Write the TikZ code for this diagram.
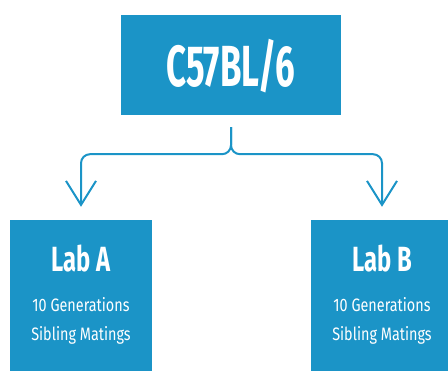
\documentclass[tikz,border=0pt]{standalone}
\usepackage{fontspec}
\setmainfont{Fira Sans}[FakeStretch=0.6]
\newfontfamily\labfont{Fira Sans}[FakeStretch=0.68]
\newfontfamily\subfont{Fira Sans}[FakeStretch=0.8]
\usetikzlibrary{arrows.meta}
\definecolor{labblue}{RGB}{27,148,199}
\tikzset{
  box/.style={fill=labblue, draw=none, inner sep=0pt},
  bigtext/.style={text=white, font=\fontsize{58}{60}\selectfont\bfseries, inner sep=0pt, anchor=base},
  labtext/.style={text=white, font=\labfont\fontsize{35}{38}\selectfont\bfseries, inner sep=0pt, anchor=base},
  subtext/.style={text=white, font=\subfont\fontsize{18}{20}\selectfont, inner sep=0pt, anchor=base},
  conn/.style={draw=labblue, line width=2pt, rounded corners=9pt},
  tip/.style={-{Straight Barb[length=24pt, width=30pt, line width=2pt]}}
}
\begin{document}
\begin{tikzpicture}[x=1pt,y=1pt]
\useasboundingbox (0,0) rectangle (448,-371);
\node[box, minimum width=220pt, minimum height=100pt] (top) at (231,-65) {};
\node[bigtext] (toptxt) at (231,-87) {C57BL/6};
\node[box, minimum width=142pt, minimum height=151pt] (labA) at (81,-295.5) {};
\node[box, minimum width=142pt, minimum height=151pt] (labB) at (382,-295.5) {};
\node[labtext] (labAtitle) at (81,-272) {Lab A};
\node[subtext] (labAgen) at (81,-311.5) {10 Generations};
\node[subtext] (labAsib) at (81,-341) {Sibling Matings};
\node[labtext] (labBtitle) at (382,-272) {Lab B};
\node[subtext] (labBgen) at (382,-311.5) {10 Generations};
\node[subtext] (labBsib) at (382,-341) {Sibling Matings};
\coordinate (stem) at ([yshift=-12pt]top.south);
\coordinate (join) at ([yshift=-39pt]top.south);
\coordinate (tipA) at ([yshift=13pt]labA.north);
\coordinate (tipB) at ([yshift=13pt]labB.north);
\draw[conn, tip] (stem) -- (join) -| (tipA);
\draw[conn, tip] (stem) -- (join) -| (tipB);
\end{tikzpicture}
\end{document}
